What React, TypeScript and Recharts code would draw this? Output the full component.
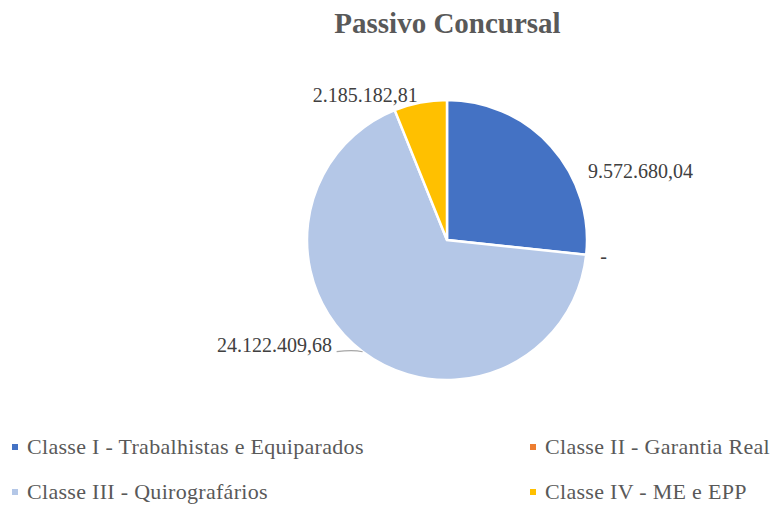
import { PieChart, Pie, Cell, Legend } from 'recharts';

const categories = [
  'Classe I - Trabalhistas e Equiparados',
  'Classe II - Garantia Real',
  'Classe III - Quirografários',
  'Classe IV - ME e EPP',
];
const values = [9572680.04, 0, 24122409.68, 2185182.81];
const colors = ['#4472C4', '#ED7D31', '#B4C7E7', '#FFC000'];

// legend order in the picture: row 1 = I, II ; row 2 = III, IV
const legendRows = [
  [0, 1],
  [2, 3],
];

// hand tuned label placement (Excel best-fit), offsets from a point just outside the slice
const labelNudge = [
  { dx: 25, dy: 42, anchor: 'start' },
  { dx: -2, dy: 7, anchor: 'start' },
  { dx: -21, dy: -12, anchor: 'end' },
  { dx: -52, dy: 15, anchor: 'middle' },
];

const data = categories.map((name, i) => ({ name, value: values[i] }));

const FONT = '"Liberation Serif", "Times New Roman", serif';
const RAD = Math.PI / 180;

function formatBR(v: number) {
  if (!v) return '-';
  const [int, dec] = v.toFixed(2).split('.');
  return int.replace(/\B(?=(\d{3})+(?!\d))/g, '.') + ',' + dec;
}

function renderLabel(props: any) {
  const { cx, cy, midAngle, outerRadius, index, value } = props;
  const n = labelNudge[index];
  const cos = Math.cos(-midAngle * RAD);
  const sin = Math.sin(-midAngle * RAD);
  const bx = cx + (outerRadius + 16) * cos;
  const by = cy + (outerRadius + 16) * sin;
  const ex = cx + outerRadius * cos;
  const ey = cy + outerRadius * sin;
  return (
    <g key={'lbl-' + index}>
      {index === 2 && (
        <path d={`M${ex},${ey} Q${ex - 10},${ey - 2} ${ex - 26},${ey}`} stroke="#A6A6A6" strokeWidth={1.2} fill="none" />
      )}
      <text
        x={bx + n.dx}
        y={by + n.dy}
        textAnchor={n.anchor as any}
        fill="#404040"
        fontSize={20}
        fontFamily={FONT}
      >
        {formatBR(value)}
      </text>
    </g>
  );
}

function LegendContent() {
  return (
    <div style={{ fontFamily: FONT, fontSize: 22, letterSpacing: 0.3, color: '#595959' }}>
      {legendRows.map((row, r) => (
        <div key={r} style={{ position: 'relative', height: 45 }}>
          {row.map((idx, c) => (
            <div
              key={idx}
              style={{
                position: 'absolute',
                left: c === 0 ? 12 : 530,
                top: 0,
                display: 'flex',
                alignItems: 'center',
                whiteSpace: 'nowrap',
              }}
            >
              <span style={{ display: 'inline-block', width: 6, height: 6, background: colors[idx], marginRight: 9 }} />
              <span>{categories[idx]}</span>
            </div>
          ))}
        </div>
      ))}
    </div>
  );
}

export default function App() {
  return (
    <div style={{ position: 'absolute', left: 0, top: 0, width: 775, height: 505, background: '#fff', overflow: 'hidden' }}>
      <div
        style={{
          position: 'absolute',
          left: 0,
          top: 7,
          width: 895,
          textAlign: 'center',
          fontFamily: FONT,
          fontWeight: 'bold',
          fontSize: 29,
          color: '#595959',
        }}
      >
        Passivo Concursal
      </div>
      <PieChart width={775} height={505} margin={{ top: 0, right: 0, bottom: 0, left: 0 }}>
        <Pie
          data={data}
          dataKey="value"
          nameKey="name"
          cx={447}
          cy={240}
          outerRadius={140}
          startAngle={90}
          endAngle={-270}
          stroke="#fff"
          strokeWidth={2.5}
          label={renderLabel}
          labelLine={false}
          isAnimationActive={false}
        >
          {data.map((d, i) => (
            <Cell key={d.name} fill={colors[i]} />
          ))}
        </Pie>
        <Legend
          content={<LegendContent />}
          wrapperStyle={{ position: 'absolute', left: 0, top: 434, width: 775, height: 90 }}
        />
      </PieChart>
    </div>
  );
}
